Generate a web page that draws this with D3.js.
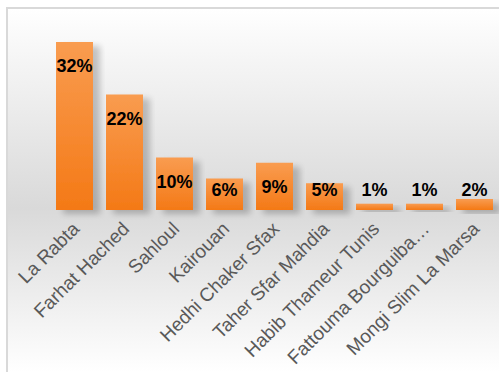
<!DOCTYPE html>
<html>
<head>
<meta charset="utf-8">
<script src="https://cdn.jsdelivr.net/npm/d3@7"></script>
<style>
  body { margin: 0; background: #fff; }
  svg { display: block; font-family: "Liberation Sans", Arial, sans-serif; }
</style>
</head>
<body>
<div class="canvas"></div>
<script>
const categories = ["La Rabta", "Farhat Hached", "Sahloul", "Kairouan", "Hedhi Chaker Sfax",
  "Taher Sfar Mahdia", "Habib Thameur Tunis", "Fattouma Bourguiba…", "Mongi Slim La Marsa"];
const shares = [0.32, 0.22, 0.10, 0.06, 0.09, 0.051, 0.012, 0.012, 0.021];

const width = 499, height = 372;
const baseY = 210;

const svg = d3.select('.canvas')
  .append('svg')
  .attr('width', width)
  .attr('height', height);

const defs = svg.append("defs");

const bg = defs.append("linearGradient")
    .attr("id", "bg")
    .attr("gradientUnits", "userSpaceOnUse")
    .attr("x1", 0).attr("y1", 8).attr("x2", 0).attr("y2", 372);
bg.append("stop").attr("offset", "0").attr("stop-color", "#ffffff");
bg.append("stop").attr("offset", "0.55").attr("stop-color", "#d9d9d9");
bg.append("stop").attr("offset", "1").attr("stop-color", "#ffffff");

const barGrad = defs.append("linearGradient")
    .attr("id", "bar")
    .attr("x1", 0).attr("y1", 0).attr("x2", 0).attr("y2", 1);
barGrad.append("stop").attr("offset", "0").attr("stop-color", "#f99c50");
barGrad.append("stop").attr("offset", "1").attr("stop-color", "#f47916");

const shadow = defs.append("filter")
    .attr("id", "shadow")
    .attr("x", "-30%").attr("y", "-30%").attr("width", "160%").attr("height", "160%");
shadow.append("feGaussianBlur").attr("in", "SourceAlpha").attr("stdDeviation", 3);
shadow.append("feOffset").attr("dx", 7).attr("dy", 4).attr("result", "b");
shadow.append("feComponentTransfer").append("feFuncA").attr("type", "linear").attr("slope", 0.22);
const merge = shadow.append("feMerge");
merge.append("feMergeNode");
merge.append("feMergeNode").attr("in", "SourceGraphic");

// chart frame, its right and bottom edges fall outside the picture
svg.append("rect")
    .attr("x", 7).attr("y", 8)
    .attr("width", 600).attr("height", 500)
    .attr("fill", "url(#bg)")
    .attr("stroke", "#d9d9d9")
    .attr("stroke-width", 2);

const x = d3.scaleBand()
    .domain(categories)
    .range([49.5, 499.5])
    .paddingInner(0.26)
    .paddingOuter(0.13);

const y = d3.scaleLinear()
    .domain([0, 0.35])
    .range([baseY, baseY - 0.35 * 525]);

const fmt = d3.format(".0%");

svg.append("g")
  .selectAll("rect")
  .data(shares)
  .join("rect")
    .attr("x", (d, i) => x(categories[i]))
    .attr("y", d => y(d))
    .attr("width", x.bandwidth())
    .attr("height", d => baseY - y(d))
    .attr("fill", "url(#bar)")
    .attr("filter", "url(#shadow)");

svg.append("g")
  .selectAll("text")
  .data(shares)
  .join("text")
    .attr("x", (d, i) => x(categories[i]) + x.bandwidth() / 2)
    .attr("y", d => Math.min(y(d) + 24, 190))
    .attr("dy", "0.35em")
    .attr("text-anchor", "middle")
    .style("font-size", "18px")
    .style("font-weight", "bold")
    .style("fill", "#000")
    .text(d => fmt(d));

const axis = svg.append("g")
    .attr("transform", `translate(0,${baseY})`)
    .call(d3.axisBottom(x).tickSize(0));
axis.select(".domain").remove();
axis.selectAll("text")
    .attr("x", 0).attr("y", 0).attr("dy", null)
    .attr("transform", "translate(6,20) rotate(-45)")
    .attr("text-anchor", "end")
    .style("font-family", "'Liberation Sans', Arial, sans-serif")
    .style("font-size", "19px")
    .style("fill", "#595959");
</script>
</body>
</html>
